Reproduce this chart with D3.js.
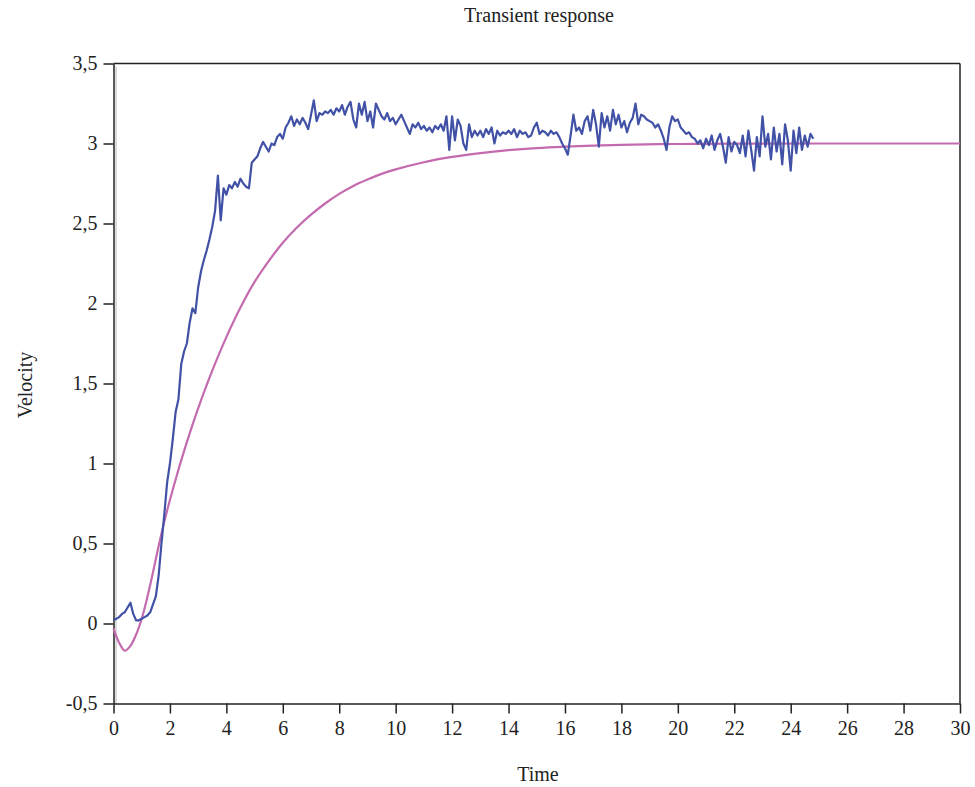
<!DOCTYPE html>
<html>
<head>
<meta charset="utf-8">
<script src="https://cdn.jsdelivr.net/npm/d3@7"></script>
<style>
  html, body { margin: 0; padding: 0; background: #ffffff; }
  svg { display: block; }
  text { font-family: "Liberation Serif", "DejaVu Serif", serif; fill: #222; }
</style>
</head>
<body>
<svg id="chart" width="975" height="787"></svg>
<script>
// ---- Data ----
const title = "Transient response";
const xLabel = "Time";
const yLabel = "Velocity";

const xTicks = [0, 2, 4, 6, 8, 10, 12, 14, 16, 18, 20, 22, 24, 26, 28, 30];
const yTicks = [-0.5, 0, 0.5, 1, 1.5, 2, 2.5, 3, 3.5];
const yTickLabels = ["-0,5", "0", "0,5", "1", "1,5", "2", "2,5", "3", "3,5"];

// Model (smooth) response
const modelTime = [0, 0.2, 0.4, 0.6, 0.8, 1.0, 1.2, 1.4, 1.6, 1.8, 2.0, 2.25, 2.5, 2.75, 3.0, 3.5, 4.0, 4.5, 5.0, 5.5, 6.0, 6.5, 7.0, 7.5, 8.0, 8.5, 9.0, 9.5, 10, 11, 12, 13, 14, 15, 16, 17, 18, 20, 22, 25, 30];
const modelVelocity = [-0.03, -0.12, -0.17, -0.14, -0.07, 0.03, 0.165, 0.32, 0.484, 0.636, 0.772, 0.93, 1.077, 1.215, 1.345, 1.58, 1.79, 1.975, 2.135, 2.265, 2.38, 2.475, 2.555, 2.625, 2.685, 2.735, 2.775, 2.81, 2.838, 2.883, 2.916, 2.94, 2.958, 2.971, 2.98, 2.987, 2.992, 2.997, 2.999, 3.0, 3.0];

// Measured response, sampled every 0.1 time units from t = 0
const measuredStep = 0.1;
const measuredVelocity = [
  0.02, 0.03, 0.04, 0.06, 0.07, 0.10, 0.13, 0.06, 0.02, 0.02,
  0.03, 0.04, 0.05, 0.07, 0.12, 0.17, 0.30, 0.50, 0.68, 0.88,
  1.00, 1.15, 1.32, 1.40, 1.62, 1.70, 1.75, 1.88, 1.97, 1.94,
  2.10, 2.20, 2.27, 2.33, 2.40, 2.48, 2.58, 2.80, 2.52, 2.72,
  2.68, 2.74, 2.72, 2.76, 2.73, 2.78, 2.75, 2.73, 2.72, 2.88,
  2.90, 2.92, 2.97, 3.01, 2.98, 2.95, 3.00, 2.99, 3.04, 3.06,
  3.03, 3.10, 3.13, 3.17, 3.11, 3.15, 3.12, 3.16, 3.13, 3.09,
  3.18, 3.27, 3.14, 3.19, 3.18, 3.20, 3.19, 3.21, 3.18, 3.22,
  3.20, 3.24, 3.18, 3.23, 3.26, 3.15, 3.10, 3.25, 3.18, 3.26,
  3.14, 3.20, 3.10, 3.25, 3.21, 3.17, 3.15, 3.19, 3.14, 3.16,
  3.12, 3.15, 3.18, 3.14, 3.10, 3.06, 3.12, 3.10, 3.13, 3.09,
  3.11, 3.08, 3.10, 3.07, 3.11, 3.09, 3.12, 3.08, 3.17, 2.96,
  3.17, 3.02, 3.15, 3.11, 3.00, 2.96, 3.12, 3.04, 3.08, 3.05,
  3.08, 3.04, 3.09, 3.06, 3.10, 3.00, 3.08, 3.05, 3.07, 3.06,
  3.08, 3.06, 3.09, 3.04, 3.08, 3.06, 3.07, 3.04, 3.05, 3.10,
  3.13, 3.06, 3.08, 3.07, 3.05, 3.08, 3.06, 3.07, 3.04, 3.00,
  2.97, 2.93, 3.05, 3.18, 3.08, 3.10, 3.06, 3.14, 3.17, 3.08,
  3.21, 3.12, 2.98, 3.19, 3.10, 3.17, 3.08, 3.21, 3.12, 3.18,
  3.10, 3.14, 3.07, 3.13, 3.16, 3.25, 3.12, 3.18, 3.17, 3.15,
  3.14, 3.13, 3.10, 3.12, 3.08, 3.03, 2.96, 3.10, 3.17, 3.14,
  3.15, 3.10, 3.08, 3.06, 3.07, 3.04, 3.03, 3.00, 3.02, 2.97,
  3.03, 2.99, 3.05, 2.96, 3.02, 3.06, 2.98, 2.88, 3.04, 2.95,
  3.01, 2.99, 2.94, 3.05, 2.92, 3.08, 2.96, 2.83, 3.04, 2.92,
  3.17, 2.98, 3.06, 2.90, 3.10, 2.95, 3.06, 2.87, 3.12, 3.02,
  2.83, 3.08, 2.94, 3.10, 2.96, 3.05, 2.98, 3.06, 3.03
];

// ---- Layout ----
const svg = d3.select("#chart");
const plotLeft = 113.5, plotRight = 960, plotTop = 63.5, plotBottom = 703.5;

const x = d3.scaleLinear().domain([0, 30]).range([plotLeft, plotRight]);
const y = d3.scaleLinear().domain([-0.5, 3.5]).range([plotBottom, plotTop]);

// thin grey line just inside the left axis
svg.append("line")
  .attr("x1", plotLeft + 2.5).attr("x2", plotLeft + 2.5)
  .attr("y1", plotTop + 3).attr("y2", plotBottom)
  .attr("stroke", "#b8b8b8").attr("stroke-width", 1);

// frame: top and right border
svg.append("line")
  .attr("x1", plotLeft).attr("x2", plotRight)
  .attr("y1", plotTop).attr("y2", plotTop)
  .attr("stroke", "#222").attr("stroke-width", 1.5);
svg.append("line")
  .attr("x1", plotRight).attr("x2", plotRight)
  .attr("y1", plotTop).attr("y2", plotBottom)
  .attr("stroke", "#222").attr("stroke-width", 1.5);

// axes
const xAxis = d3.axisBottom(x).tickValues(xTicks).tickSize(10).tickPadding(7).tickSizeOuter(0);
const yAxis = d3.axisLeft(y).tickValues(yTicks).tickSize(10).tickPadding(6).tickSizeOuter(0)
  .tickFormat((d, i) => yTickLabels[i]);

const gx = svg.append("g").attr("transform", `translate(0,${plotBottom})`).call(xAxis);
const gy = svg.append("g").attr("transform", `translate(${plotLeft},0)`).call(yAxis);

[gx, gy].forEach(g => {
  g.select(".domain").attr("stroke", "#222").attr("stroke-width", 1.5);
  g.selectAll(".tick line").attr("stroke", "#222").attr("stroke-width", 1.5);
  g.selectAll(".tick text")
    .attr("font-family", "'Liberation Serif', serif")
    .attr("font-size", 20)
    .attr("fill", "#222");
});

// lines
const modelData = modelTime.map((t, i) => [t, modelVelocity[i]]);
const measuredData = measuredVelocity.map((v, i) => [i * measuredStep, v]);

svg.append("path")
  .datum(modelData)
  .attr("fill", "none")
  .attr("stroke", "#c46aae")
  .attr("stroke-width", 2.2)
  .attr("d", d3.line().x(d => x(d[0])).y(d => y(d[1])).curve(d3.curveCatmullRom.alpha(0.5)));

svg.append("path")
  .datum(measuredData)
  .attr("fill", "none")
  .attr("stroke", "#4151a6")
  .attr("stroke-width", 2.2)
  .attr("stroke-linejoin", "round")
  .attr("d", d3.line().x(d => x(d[0])).y(d => y(d[1])));

// texts
svg.append("text")
  .attr("x", 539).attr("y", 22)
  .attr("text-anchor", "middle")
  .attr("font-size", 20)
  .text(title);

svg.append("text")
  .attr("x", 538).attr("y", 781)
  .attr("text-anchor", "middle")
  .attr("font-size", 20)
  .text(xLabel);

svg.append("text")
  .attr("transform", "translate(32,385) rotate(-90)")
  .attr("text-anchor", "middle")
  .attr("font-size", 20)
  .text(yLabel);
</script>
</body>
</html>
